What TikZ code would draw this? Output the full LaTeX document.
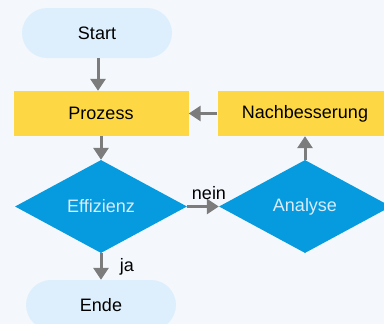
\documentclass[tikz,border=0pt]{standalone}
\usepackage{fontspec}
\setmainfont{Liberation Sans}
\usepackage{tikz}
\usepackage{xcolor}
\usetikzlibrary{arrows.meta,shapes.geometric}

\definecolor{bgblue}{HTML}{F4F8FC}
\definecolor{pillblue}{HTML}{DDEFFC}
\definecolor{boxyellow}{HTML}{FDD844}
\definecolor{diablue}{HTML}{069ADF}
\definecolor{diatext}{HTML}{D8ECFA}
\definecolor{flowgray}{HTML}{7C7C7C}

\begin{document}
\begin{tikzpicture}[x=1pt,y=-1pt,
	pill/.style={rectangle,rounded corners=25pt,fill=pillblue,minimum width=150pt,minimum height=50pt},
	box/.style={rectangle,fill=boxyellow,minimum width=175pt,minimum height=45pt},
	dia/.style={diamond,fill=diablue,text=diatext,minimum width=172pt,minimum height=93pt,inner sep=0pt,aspect=1.85},
	flow/.style={draw=flowgray,line width=3pt,-{Triangle[width=15pt,length=12pt]}},
	font=\fontsize{18}{20}\selectfont]
	\clip (0,0) rectangle (384,324);
	\fill[bgblue] (0,0) rectangle (384,324);

	\node[pill] (start) at (97,33){Start};
	\node[box] (proz) at (101,113.5){Prozess};
	\node[box] (nach) at (305,113.5){Nachbesserung};
	\node[dia] (eff) at (101,206.5){Effizienz};
	\node[dia] (ana) at (305,206.5){Analyse};
	\node[pill] (ende) at (101,305){Ende};

	\draw[flow] ([xshift=1pt]start.south) to ([xshift=1pt]start.south |- proz.north);
	\draw[flow] (proz) to (eff);
	\draw[flow] (eff) to node[above=2pt,xshift=6pt]{nein} (ana);
	\draw[flow] (ana) to (nach);
	\draw[flow] (nach) to (proz);
	\draw[flow] (eff) to node[right=14pt]{ja} (ende);
\end{tikzpicture}
\end{document}
